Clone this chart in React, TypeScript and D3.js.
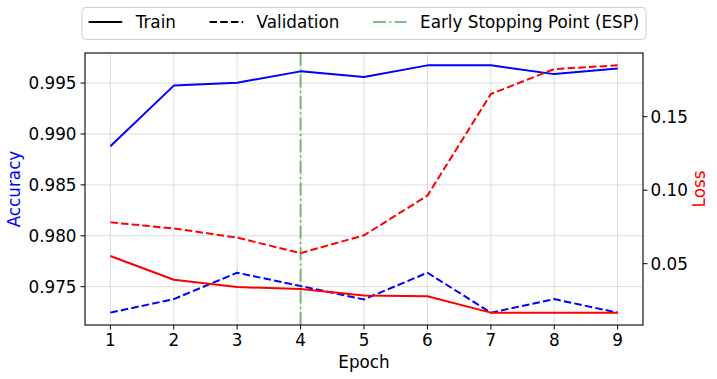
import React, { useEffect, useRef } from "react"
import * as d3 from "d3"

const WIDTH = 717
const HEIGHT = 379
const MARGIN = { left: 85, right: 74, top: 53, bottom: 54 }
const FONT = "'DejaVu Sans', sans-serif"
const FONT_SIZE = 16.8
const TICK_LEN = 4.5
const TICK_PAD = 4

// values
const epochs = [1, 2, 3, 4, 5, 6, 7, 8, 9]
const trainAccuracy = [0.9888, 0.99475, 0.99504, 0.99615, 0.99559, 0.99674, 0.99674, 0.99588, 0.99644]
const valAccuracy = [0.97245, 0.97378, 0.97637, 0.97506, 0.97375, 0.97637, 0.97245, 0.97378, 0.97245]
const trainLoss = [0.0552, 0.0391, 0.0341, 0.0327, 0.0284, 0.0278, 0.0167, 0.0167, 0.0167]
const valLoss = [0.0781, 0.074, 0.0677, 0.0572, 0.0693, 0.0963, 0.1654, 0.1824, 0.1849]
const accuracyTicks = [0.975, 0.98, 0.985, 0.99, 0.995]
const lossTicks = [0.05, 0.1, 0.15]
const espEpoch = 4
const legendLabels = ["Train", "Validation", "Early Stopping Point (ESP)"]

const DASHED = "7.5,3.2"
const DASH_DOT = "13,3.3,2,3.3"
const ESP_COLOR = "rgba(0,128,0,0.5)"

// matplotlib-style 5% margins around the data
const padded = (vals: number[]): [number, number] => {
  const [lo, hi] = d3.extent(vals) as [number, number]
  const pad = (hi - lo) * 0.05
  return [lo - pad, hi + pad]
}

export default function App() {
  const svgRef = useRef<SVGSVGElement | null>(null)

  useEffect(() => {
    const svgEl = svgRef.current
    if (!svgEl) return
    const svg = d3.select(svgEl)
    svg.selectAll("*").remove()

    const x0 = MARGIN.left
    const x1 = WIDTH - MARGIN.right
    const y0 = HEIGHT - MARGIN.bottom
    const y1 = MARGIN.top

    const x = d3.scaleLinear().domain(padded(epochs)).range([x0, x1])
    const yAcc = d3.scaleLinear().domain(padded([...trainAccuracy, ...valAccuracy])).range([y0, y1])
    const yLoss = d3.scaleLinear().domain(padded([...trainLoss, ...valLoss])).range([y0, y1])

    const root = svg.append("g").attr("font-family", FONT).attr("font-size", FONT_SIZE)

    // grid
    const grid = root.append("g").attr("stroke", "#dcdcdc").attr("stroke-width", 1)
    grid
      .selectAll("line.gx")
      .data(epochs)
      .join("line")
      .attr("x1", d => x(d))
      .attr("x2", d => x(d))
      .attr("y1", y0)
      .attr("y2", y1)
    grid
      .selectAll("line.gy")
      .data(accuracyTicks)
      .join("line")
      .attr("x1", x0)
      .attr("x2", x1)
      .attr("y1", d => yAcc(d))
      .attr("y2", d => yAcc(d))

    const accLine = d3
      .line<number>()
      .x((_, i) => x(epochs[i]))
      .y(d => yAcc(d))
    const lossLine = d3
      .line<number>()
      .x((_, i) => x(epochs[i]))
      .y(d => yLoss(d))

    const drawPath = (d: string | null, color: string, dash?: string) => {
      const p = root
        .append("path")
        .attr("d", d)
        .attr("fill", "none")
        .attr("stroke", color)
        .attr("stroke-width", 2)
        .attr("stroke-linejoin", "round")
      if (dash) p.attr("stroke-dasharray", dash)
    }

    drawPath(accLine(trainAccuracy), "#0000ff")
    drawPath(accLine(valAccuracy), "#0000ff", DASHED)

    root
      .append("line")
      .attr("x1", x(espEpoch))
      .attr("x2", x(espEpoch))
      .attr("y1", y0)
      .attr("y2", y1)
      .attr("stroke", ESP_COLOR)
      .attr("stroke-width", 2)
      .attr("stroke-dasharray", DASH_DOT)

    drawPath(lossLine(trainLoss), "#ff0000")
    drawPath(lossLine(valLoss), "#ff0000", DASHED)

    // frame
    root
      .append("rect")
      .attr("x", x0)
      .attr("y", y1)
      .attr("width", x1 - x0)
      .attr("height", y0 - y1)
      .attr("fill", "none")
      .attr("stroke", "#000")
      .attr("stroke-width", 1.1)

    // x ticks
    const xt = root.append("g")
    xt.selectAll("line")
      .data(epochs)
      .join("line")
      .attr("x1", d => x(d))
      .attr("x2", d => x(d))
      .attr("y1", y0)
      .attr("y2", y0 + TICK_LEN)
      .attr("stroke", "#000")
    xt.selectAll("text")
      .data(epochs)
      .join("text")
      .attr("x", d => x(d))
      .attr("y", y0 + TICK_LEN + TICK_PAD + 0.73 * FONT_SIZE)
      .attr("text-anchor", "middle")
      .text(d => d3.format("d")(d))

    // left ticks
    const lt = root.append("g")
    lt.selectAll("line")
      .data(accuracyTicks)
      .join("line")
      .attr("x1", x0 - TICK_LEN)
      .attr("x2", x0)
      .attr("y1", d => yAcc(d))
      .attr("y2", d => yAcc(d))
      .attr("stroke", "#000")
    lt.selectAll("text")
      .data(accuracyTicks)
      .join("text")
      .attr("x", x0 - TICK_LEN - TICK_PAD)
      .attr("y", d => yAcc(d))
      .attr("dy", "0.36em")
      .attr("text-anchor", "end")
      .text(d => d3.format(".3f")(d))

    // right ticks
    const rt = root.append("g")
    rt.selectAll("line")
      .data(lossTicks)
      .join("line")
      .attr("x1", x1)
      .attr("x2", x1 + TICK_LEN)
      .attr("y1", d => yLoss(d))
      .attr("y2", d => yLoss(d))
      .attr("stroke", "#000")
    rt.selectAll("text")
      .data(lossTicks)
      .join("text")
      .attr("x", x1 + TICK_LEN + TICK_PAD - 1)
      .attr("y", d => yLoss(d))
      .attr("dy", "0.36em")
      .attr("text-anchor", "start")
      .text(d => d3.format(".2f")(d))

    // axis titles
    const midY = (y0 + y1) / 2
    root
      .append("text")
      .attr("transform", `translate(${(x0 + x1) / 2},368)`)
      .attr("text-anchor", "middle")
      .text("Epoch")
    root
      .append("text")
      .attr("transform", `translate(19.5,${midY}) rotate(-90)`)
      .attr("text-anchor", "middle")
      .attr("fill", "#0000ff")
      .text("Accuracy")
    root
      .append("text")
      .attr("transform", `translate(705,${midY}) rotate(-90)`)
      .attr("text-anchor", "middle")
      .attr("fill", "#ff0000")
      .text("Loss")

    // legend, laid out like matplotlib (em-based spacing), centred over the axes
    const em = FONT_SIZE
    const handleLen = 2 * em
    const handlePad = 0.8 * em
    const colGap = 2 * em
    const borderPad = 0.4 * em
    const legendTop = 7.5
    const legendH = 32
    const legendMid = legendTop + legendH / 2 - 1.5

    const lg = root.append("g")
    const frame = lg
      .append("rect")
      .attr("y", legendTop)
      .attr("height", legendH)
      .attr("rx", 4)
      .attr("fill", "rgba(255,255,255,0.8)")
      .attr("stroke", "#cccccc")
      .attr("stroke-width", 1)
    const items = lg.append("g")
    const styles = [
      { color: "#000", dash: null as string | null },
      { color: "#000", dash: DASHED },
      { color: ESP_COLOR, dash: DASH_DOT },
    ]
    let cursor = 0
    legendLabels.forEach((label, i) => {
      const h = items
        .append("line")
        .attr("x1", cursor)
        .attr("x2", cursor + handleLen)
        .attr("y1", legendMid)
        .attr("y2", legendMid)
        .attr("stroke", styles[i].color)
        .attr("stroke-width", 2)
      if (styles[i].dash) h.attr("stroke-dasharray", styles[i].dash)
      const t = items
        .append("text")
        .attr("x", cursor + handleLen + handlePad)
        .attr("y", legendMid)
        .attr("dy", "0.36em")
        .text(label)
      const tw = (t.node() as SVGTextElement).getComputedTextLength()
      cursor += handleLen + handlePad + tw + (i < legendLabels.length - 1 ? colGap : 0)
    })
    const boxW = cursor + 2 * borderPad
    const boxX = (x0 + x1) / 2 - boxW / 2
    frame.attr("x", boxX).attr("width", boxW)
    items.attr("transform", `translate(${boxX + borderPad},0)`)
  }, [])

  return (
    <div style={{ position: "fixed", left: 0, top: 0 }}>
      <svg ref={svgRef} width={WIDTH} height={HEIGHT} style={{ display: "block", background: "#fff" }} />
    </div>
  )
}
